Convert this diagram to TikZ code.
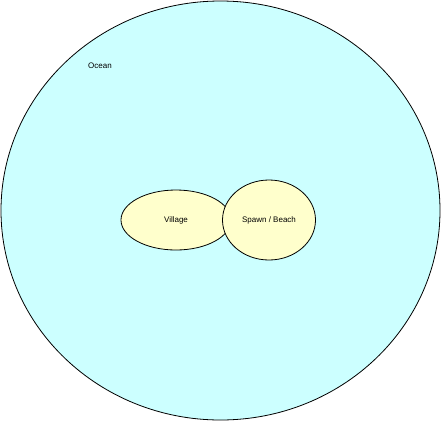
\documentclass[tikz,border=0pt]{standalone}
\usepackage{fontspec}
\setmainfont{Liberation Sans}
\usetikzlibrary{shapes.geometric}
\definecolor{oceanfill}{HTML}{CCFFFF}
\definecolor{landfill}{HTML}{FFFFCC}

\begin{document}
\begin{tikzpicture}[x=1pt,y=-1pt]
		\tikzstyle{every node}+=[inner sep=0pt,font=\fontsize{8}{9}\selectfont]
		\tikzstyle{area}=[ellipse,draw=black,line width=0.8pt]
		\useasboundingbox (0,0) rectangle (441,421);
		\node [area,fill=oceanfill,minimum width=439pt,minimum height=419pt] (ocean) at (220.5,210.5) {};
		\node (oceanlabel) at (100,66) {Ocean};
		\node [area,fill=landfill,minimum width=110pt,minimum height=60pt] (village) at (176,220) {Village};
		\node [area,fill=landfill,minimum width=93pt,minimum height=80pt] (spawn) at (269,220) {Spawn / Beach};
	\end{tikzpicture}
\end{document}
